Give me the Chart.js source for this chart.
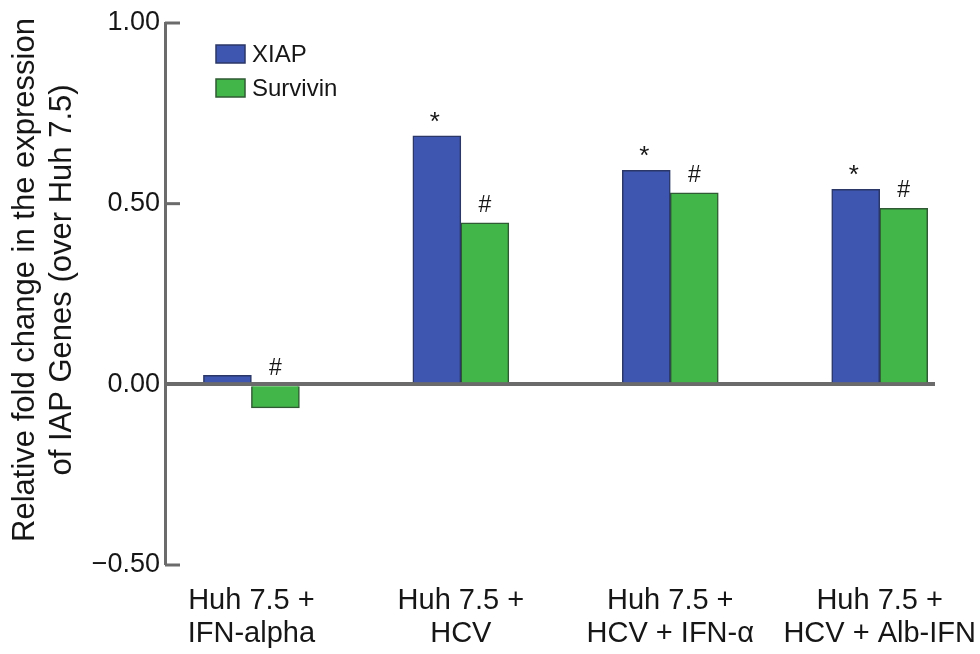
<!DOCTYPE html>
<html><head><meta charset="utf-8">
<script src="https://cdn.jsdelivr.net/npm/chart.js@4"></script>
<style>html,body{margin:0;padding:0;background:#fff}#wrap{width:980px;height:654px}</style>
</head><body><div id="wrap"><canvas id="c" width="980" height="654"></canvas></div>
<script>
const categories = [["Huh 7.5 +","IFN-alpha"],["Huh 7.5 +","HCV"],["Huh 7.5 +","HCV + IFN-\u03b1"],["Huh 7.5 +","HCV + Alb-IFN"]];
const seriesNames = ["XIAP","Survivin"];
const xiapValues = [0.025, 0.688, 0.592, 0.540];
const survivinValues = [-0.065, 0.447, 0.530, 0.487];
const xiapMarks = ["", "*", "*", "*"];
const survivinMarks = ["#", "#", "#", "#"];
const yTicks = [-0.5, 0, 0.5, 1.0];
const yTitle = ["Relative fold change in the expression", "of IAP Genes (over Huh 7.5)"];

const FONT = "'Liberation Sans', Arial, Helvetica, sans-serif";
const AXIS = '#6b6b6b';
const TEXT = '#161616';
const marks = [xiapMarks, survivinMarks];

const overlay = {
  id: 'overlay',
  afterDatasetsDraw(chart) {
    const ctx = chart.ctx;
    ctx.save();
    ctx.fillStyle = TEXT;
    ctx.textAlign = 'center';
    ctx.textBaseline = 'alphabetic';
    chart.data.datasets.forEach((ds, di) => {
      const meta = chart.getDatasetMeta(di);
      meta.data.forEach((el, i) => {
        const m = marks[di][i];
        if (!m) return;
        const top = Math.min(el.y, el.base);
        if (m === '*') { ctx.font = "26px " + FONT; ctx.fillText(m, el.x - 2, top - 6); }
        else { ctx.font = "23px " + FONT; ctx.fillText(m, el.x, top - 11); }
      });
    });
    ctx.restore();
  },
  afterDraw(chart) {
    const ctx = chart.ctx;
    const y = chart.scales.y;
    const left = chart.chartArea.left;
    ctx.save();
    ctx.strokeStyle = AXIS; ctx.lineWidth = 3;
    yTicks.forEach(v => {
      const p = y.getPixelForValue(v);
      ctx.beginPath(); ctx.moveTo(left, p); ctx.lineTo(left + 15, p); ctx.stroke();
    });
    chart.data.datasets.forEach((ds, i) => {
      const bx = 216, by = 45 + 34 * i;
      ctx.fillStyle = ds.backgroundColor; ctx.fillRect(bx, by, 29, 18);
      ctx.strokeStyle = ds.borderColor; ctx.lineWidth = 1.5; ctx.strokeRect(bx, by, 29, 18);
      ctx.fillStyle = TEXT; ctx.font = "24px " + FONT;
      ctx.textAlign = 'left'; ctx.textBaseline = 'middle';
      ctx.fillText(ds.label, 252, by + 10);
    });
    ctx.fillStyle = TEXT; ctx.font = "31px " + FONT;
    ctx.textAlign = 'center'; ctx.textBaseline = 'middle';
    const xs = [25, 62];
    yTitle.forEach((t, i) => {
      ctx.save(); ctx.translate(xs[i], 280); ctx.rotate(-Math.PI / 2);
      ctx.fillText(t, 0, 0); ctx.restore();
    });
    ctx.restore();
  }
};

new Chart(document.getElementById('c'), {
  type: 'bar',
  data: {
    datasets: [
      { label: seriesNames[0], data: xiapValues.map((v, i) => ({x: i, y: v})),
        backgroundColor: '#3f56b0', borderColor: '#2b3766', borderWidth: 1.5, barThickness: 48 },
      { label: seriesNames[1], data: survivinValues.map((v, i) => ({x: i, y: v})),
        backgroundColor: '#43b64a', borderColor: '#2f5a33', borderWidth: 1.5, barThickness: 48 }
    ]
  },
  options: {
    responsive: false, animation: false, devicePixelRatio: 1,
    layout: { padding: { left: 0, top: 23, right: 45, bottom: 0 } },
    plugins: { legend: { display: false }, tooltip: { enabled: false } },
    scales: {
      x: {
        type: 'linear', min: -0.4126, max: 3.264, offset: false,
        afterBuildTicks: s => { s.ticks = categories.map((_, i) => ({ value: i })); },
        afterFit: s => { s.height = 89; s.paddingLeft = 0; s.paddingRight = 0; },
        grid: { display: false, offset: false },
        border: { display: false },
        ticks: { callback: v => categories[v], font: { family: FONT, size: 29, lineHeight: 1.14 },
                 color: TEXT, padding: 11, maxRotation: 0, autoSkip: false }
      },
      y: {
        min: -0.5, max: 1.0,
        afterBuildTicks: s => { s.ticks = yTicks.map(v => ({ value: v })); },
        afterFit: s => { s.width = 165; },
        grid: { drawTicks: false, drawOnChartArea: true,
                color: c => c.tick && c.tick.value === 0 ? AXIS : 'rgba(0,0,0,0)',
                lineWidth: c => c.tick && c.tick.value === 0 ? 4 : 0 },
        border: { display: true, color: AXIS, width: 3 },
        ticks: { callback: v => (v < 0 ? '\u2212' : '') + Math.abs(v).toFixed(2),
                 font: { family: FONT, size: 27 }, color: TEXT, padding: 5 }
      }
    }
  },
  plugins: [overlay]
});
</script></body></html>
